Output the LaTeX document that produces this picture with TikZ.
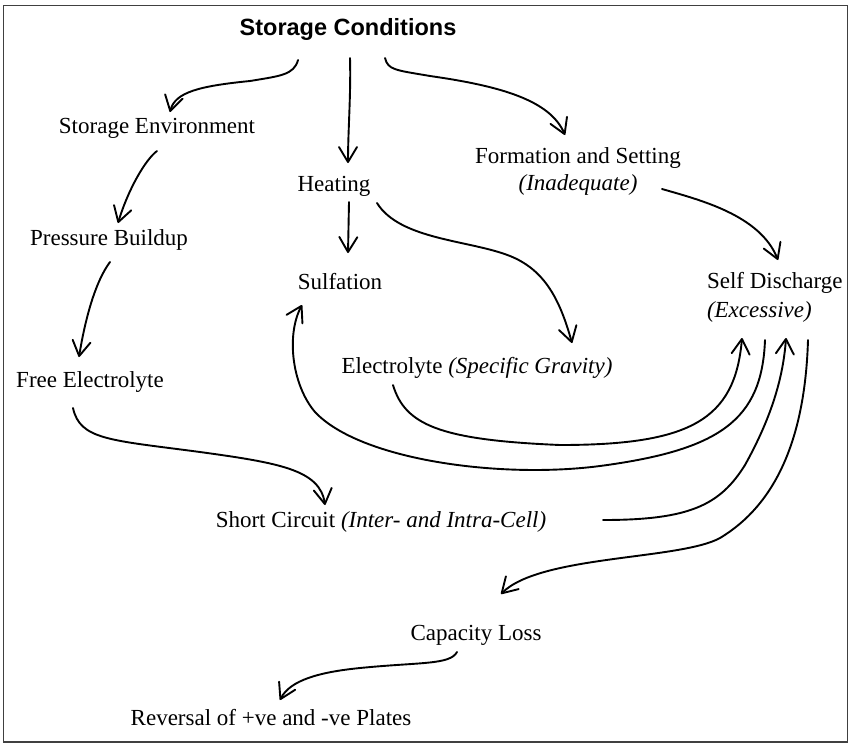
\documentclass[tikz,border=0pt]{standalone}
\usepackage{fontspec}
\setmainfont{Liberation Serif}
\newfontfamily\titlefont{Liberation Sans}
\usetikzlibrary{arrows.meta,calc}
\begin{document}
\begin{tikzpicture}[x=1pt,y=-1pt,
  lbl/.style={inner sep=0pt,outer sep=0pt,anchor=base,font=\fontsize{23}{27}\selectfont},
  conn/.style={line width=1.9pt,line cap=round,line join=round,
    -{Straight Barb[length=15pt,width=18pt,line cap=round,line join=round]}},
  plain/.style={line width=1.9pt,line cap=round,line join=round}
]
\useasboundingbox (0,0) rectangle (853,747);
\draw[black!75,line width=1.5pt] (3.5,5.5) rectangle (847.5,742);

\node[lbl,font=\titlefont\bfseries\fontsize{23.5}{28}\selectfont] (sc) at (348,35) {Storage Conditions};
\node[lbl] (se) at (157,133) {Storage Environment};
\node[lbl] (heat) at (334,191) {Heating};
\node[lbl] (form) at (578,163) {\begin{tabular}[t]{@{}c@{}}Formation and Setting\\\textit{(Inadequate)}\end{tabular}};
\node[lbl] (pb) at (109,245) {Pressure Buildup};
\node[lbl] (sulf) at (340,289) {Sulfation};
\node[lbl,anchor=base west,font=\fontsize{23}{29}\selectfont] (sd) at (707,288) {\begin{tabular}[t]{@{}l@{}}Self Discharge\\\textit{(Excessive)}\end{tabular}};
\node[lbl] (fe) at (90,387) {Free Electrolyte};
\node[lbl] (elec) at (477,373) {Electrolyte \textit{(Specific Gravity)}};
\node[lbl] (short) at (381,527) {Short Circuit \textit{(Inter- and Intra-Cell)}};
\node[lbl] (cap) at (476,640) {Capacity Loss};
\node[lbl] (rev) at (271,725) {Reversal of +ve and -ve Plates};

% Storage Conditions -> Storage Environment
\draw[conn] ($(sc.base)+(-50,25)$) .. controls (294,75) and (280,76) .. (250,81)
  .. controls (200,86) and (175,92) .. ($(se.base)+(13,-21)$);
% Storage Conditions -> Heating
\draw[conn] ($(sc.base)+(2,23)$) .. controls (351,95) and (348,130) .. ($(heat.base)+(14,-28)$);
% Storage Conditions -> Formation
\draw[conn] ($(sc.base)+(37,23)$) .. controls (388,70) and (395,70) .. (430,76)
  .. controls (500,86) and (550,100) .. ($(form.base)+(-13,-28)$);
% Storage Environment -> Pressure Buildup
\draw[conn] ($(se.base)+(0,18)$) .. controls (145,160) and (128,190) .. ($(pb.base)+(9,-22)$);
% Pressure Buildup -> Free Electrolyte
\draw[conn] ($(pb.base)+(1,17)$) .. controls (95,282) and (85,320) .. ($(fe.base)+(-11,-30)$);
% Heating -> Sulfation
\draw[conn] ($(heat.base)+(15,11)$) -- ($(sulf.base)+(8,-36)$);
% Heating -> Electrolyte
\draw[conn] ($(heat.base)+(43,12)$) .. controls (400,240) and (470,240) .. (510,256)
  .. controls (545,270) and (560,300) .. ($(elec.base)+(95,-30)$);
% Formation -> Self Discharge
\draw[conn] ($(form.base)+(84,26)$) .. controls (700,200) and (760,215) .. ($(sd.base west)+(71,-28)$);
% Free Electrolyte -> Short Circuit
\draw[conn] ($(fe.base)+(-17,21)$) .. controls (80,440) and (110,440) .. (200,452)
  .. controls (280,463) and (320,470) .. ($(short.base)+(-56,-22)$);
% Electrolyte -> Self Discharge
\draw[conn] ($(elec.base)+(-84,12)$) .. controls (405,425) and (440,440) .. (560,445)
  .. controls (690,445) and (735,420) .. ($(sd.base west)+(35,50)$);
% Self Discharge -> Sulfation
\draw[conn] ($(sd.base west)+(58,52)$) .. controls (762,420) and (720,450) .. (600,466)
  .. controls (500,479) and (360,460) .. (315,412)
  .. controls (292,385) and (286,335) .. ($(sulf.base)+(-38,16)$);
% Short Circuit -> Self Discharge
\draw[conn] ($(short.base)+(222,-7)$) .. controls (690,520) and (720,505) .. (745,465)
  .. controls (770,420) and (783,380) .. ($(sd.base west)+(79,50)$);
% Self Discharge -> Capacity Loss
\draw[conn] ($(sd.base west)+(101,52)$) .. controls (805,440) and (775,505) .. (720,538)
  .. controls (680,560) and (540,555) .. ($(cap.base)+(25,-46)$);
% Capacity Loss -> Reversal
\draw[conn] ($(cap.base)+(-19,12)$) .. controls (450,665) and (420,662) .. (360,668)
  .. controls (320,672) and (290,680) .. ($(rev.base)+(9,-25)$);
\end{tikzpicture}
\end{document}
